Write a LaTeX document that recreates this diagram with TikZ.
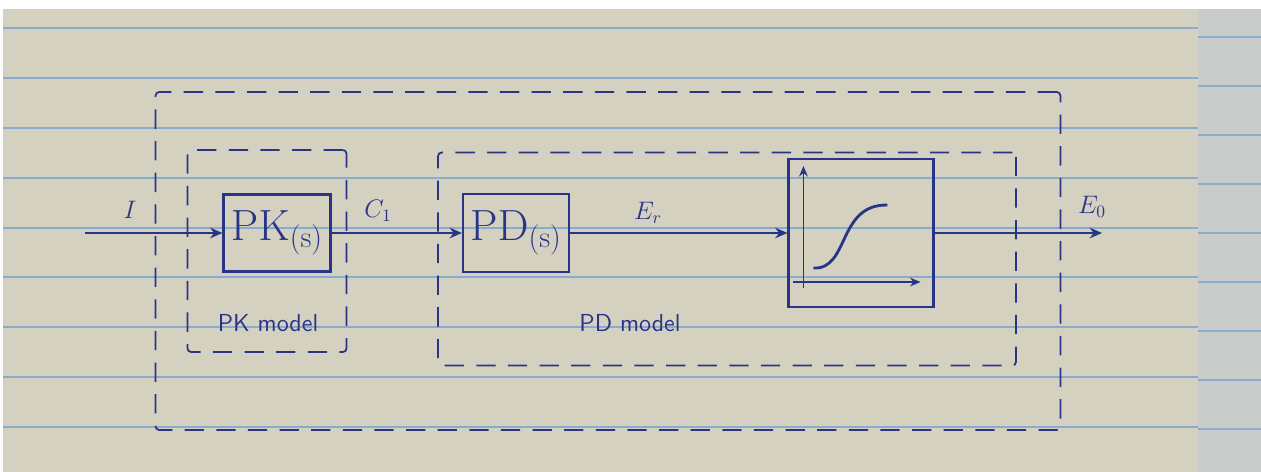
\documentclass[tikz,border=0pt]{standalone}
\usepackage{xcolor}
\usepackage{amsmath}
\usepackage{tikz}
\usetikzlibrary{arrows.meta, positioning, calc}
\definecolor{ink}{RGB}{42,52,135}
\definecolor{paper}{RGB}{212,209,192}
\definecolor{sidepage}{RGB}{200,204,202}
\definecolor{ruled}{RGB}{135,172,205}
\tikzset{
  block/.style={rectangle, draw=ink, line width=1.2pt,
    align=center, font=\fontsize{26}{28}\selectfont, text=ink},
  modelbox/.style={rectangle, draw=ink, line width=1pt,
    dash pattern=on 11pt off 7pt, rounded corners=2pt},
  siglabel/.style={font=\fontsize{14}{16}\selectfont, text=ink},
  modellabel/.style={font=\sffamily\fontsize{14}{16}\selectfont, text=ink},
  flowarrow/.style={-{Stealth[length=7pt,width=6pt]}, line width=1.2pt, color=ink},
  axisarrow/.style={-{Stealth[length=6pt,width=5pt]}, line width=1pt, color=ink},
  rule/.style={ruled, line width=0.6pt}
}
\begin{document}
\begin{tikzpicture}[x=0.02cm, y=-0.02cm]
  \useasboundingbox (0,0) rectangle (1261,472);
  % notebook page
  \fill[white] (0,0) rectangle (1261,472);
  \fill[paper] (3,9) rectangle (1198,472);
  \fill[sidepage] (1198,9) rectangle (1261,472);
  \foreach \y in {28,78,128,178,228,277,327,377,427}
    \draw[rule] (3,\y) -- (1198,\y);
  \foreach \y in {37,86,135,184,233,282,331,380,429}
    \draw[rule] (1198,\y) -- (1261,\y);

  % dashed model boxes
  \node[modelbox, minimum width=18.1cm, minimum height=6.76cm] (outer) at (608,261) {};
  \node[modelbox, minimum width=3.18cm, minimum height=4.04cm] (pkmodel) at (267,251) {};
  \node[modelbox, minimum width=11.56cm, minimum height=4.26cm] (pdmodel) at (727,259) {};

  % blocks
  \node[block, minimum width=2.14cm, minimum height=1.54cm] (pk) at (277,233) {$\mathrm{PK}_{(\mathrm{s})}$};
  \node[block, minimum width=2.12cm, minimum height=1.56cm] (pd) at (516,233) {$\mathrm{PD}_{(\mathrm{s})}$};
  \node[block, minimum width=2.9cm, minimum height=2.96cm] (sig) at (861,233) {};

  % sigmoid inside the last block
  \draw[axisarrow] ($(sig.south west)+(16,-20)$) -- ($(sig.north west)+(16,8)$);
  \draw[axisarrow] ($(sig.south west)+(6,-26)$) -- ($(sig.south east)+(-14,-26)$);
  \draw[ink, line width=1.6pt] ($(sig.south west)+(26,-40)$)
    .. controls ($(sig.south west)+(62,-38)$) and ($(sig.south west)+(50,-104)$)
    .. ($(sig.south west)+(100,-103)$);

  % signals
  \coordinate (in) at (85,233);
  \coordinate (out) at (1102,233);
  \draw[flowarrow] (in) -- (pk.west);
  \draw[flowarrow] (pk.east) -- (pd.west);
  \draw[flowarrow] (pd.east) -- (sig.west);
  \draw[flowarrow] (sig.east) -- (out);

  % labels
  \node[siglabel] (lblI) at (130,210) {$I$};
  \node[siglabel] (lblC) at (378,211) {$C_1$};
  \node[siglabel] (lblEr) at (648,213) {$E_r$};
  \node[siglabel] (lblEo) at (1092,207) {$E_0$};
  \node[modellabel] (lblpk) at (268,323) {PK model};
  \node[modellabel] (lblpd) at (630,323) {PD model};
\end{tikzpicture}
\end{document}
